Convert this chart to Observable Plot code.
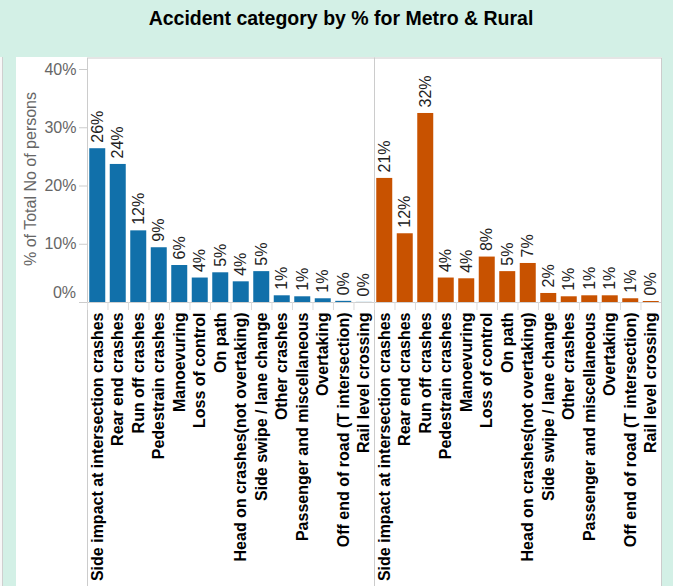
<!DOCTYPE html>
<html>
<head>
<meta charset="utf-8">
<script src="https://cdn.jsdelivr.net/npm/d3@7"></script>
<script src="https://cdn.jsdelivr.net/npm/@observablehq/plot@0.6"></script>
<style>
  html, body { margin: 0; padding: 0; }
  body { width: 673px; height: 586px; overflow: hidden; background: #d3f0e6; font-family: "Liberation Sans", Arial, sans-serif; }
  #wrap { position: relative; width: 673px; height: 586px; }
  #title { position: absolute; left: 16px; top: 6px; width: 650px; text-align: center; font-size: 19.5px; font-weight: bold; line-height: 24px; color: #000; }
  #strip { position: absolute; left: 0; top: 57px; width: 2px; height: 529px; background: #f7f7f7; border-right: 1px solid #cfcfcf; }
  #panel { position: absolute; left: 16px; top: 57px; width: 646px; height: 529px; background: #fff; }
  #chart { position: absolute; left: 0; top: 57px; }
</style>
</head>
<body>
<div id="wrap">
  <div id="title">Accident category by % for Metro &amp; Rural</div>
  <div id="strip"></div>
  <div id="panel"></div>
  <div id="chart"></div>
</div>
<script>
const categories = [
  "Side impact at intersection crashes",
  "Rear end crashes",
  "Run off crashes",
  "Pedestrain crashes",
  "Manoevuring",
  "Loss of control",
  "On path",
  "Head on crashes(not overtaking)",
  "Side swipe / lane change",
  "Other crashes",
  "Passenger and miscellaneous",
  "Overtaking",
  "Off end of road (T intersection)",
  "Rail level crossing"
];
const regions = ["Metro", "Rural"];
const metroValues = [26.4, 23.7, 12.3, 9.4, 6.35, 4.2, 5.1, 3.55, 5.3, 1.15, 0.98, 0.64, 0.2, 0.02];
const ruralValues = [21.3, 11.8, 32.45, 4.2, 4.07, 7.8, 5.3, 6.7, 1.55, 0.98, 1.15, 1.15, 0.64, 0.17];
const yTicks = [0, 10, 20, 30, 40];
const yLabel = "% of Total No of persons";
const colors = ["#1170aa", "#c85200"];

const data = [
  ...categories.map((c, i) => ({region: regions[0], category: c, value: metroValues[i]})),
  ...categories.map((c, i) => ({region: regions[1], category: c, value: ruralValues[i]}))
];

const W = 673, H = 529;
const mL = 86.5, mR = 11, mT = 12, mB = 284;
const facetW = (W - mL - mR) / regions.length;
const step = facetW / categories.length;
const yDomain = [yTicks[0], yTicks[yTicks.length - 1]];

const chart = Plot.plot({
  width: W,
  height: H,
  marginLeft: mL,
  marginRight: mR,
  marginTop: mT,
  marginBottom: mB,
  style: {background: "transparent", fontFamily: "'Liberation Sans', Arial, sans-serif", overflow: "visible"},
  fx: {domain: regions, padding: 0, axis: null},
  x: {domain: categories, paddingInner: 0.22, paddingOuter: 0.11, round: false, axis: null},
  y: {domain: yDomain, axis: null},
  color: {domain: regions, range: colors},
  marks: [
    Plot.frame({stroke: "#cccccc", insetTop: -mT + 0.5, insetBottom: -mB}),
    Plot.ruleY([0], {stroke: "#d0d0d0"}),
    Plot.ruleX(data, {fx: "region", x: "category", y1: 0, y2: 0, insetBottom: -8, dx: -step / 2, stroke: "#dcdcdc"}),
    Plot.barY(data, {fx: "region", x: "category", y: "value", fill: "region"}),
    Plot.text(data, {fx: "region", x: "category", y: "value", text: d => Math.round(d.value) + "%", rotate: -90, textAnchor: "start", dy: -6, fontSize: 16, fill: "#222"}),
    Plot.axisY({ticks: yTicks, tickSize: 8, tickPadding: 3, tickFormat: d => d === 0 ? "" : d + "%", fontSize: 16, color: "#666", stroke: "#cccccc", label: null}),
    Plot.text([{region: regions[0], v: yTicks[0]}], {fx: "region", y: "v", text: d => d.v + "%", frameAnchor: "left", textAnchor: "end", dx: -11.5, dy: -10, fontSize: 16, fill: "#666"}),
    Plot.text([{region: regions[0], v: (yDomain[0] + yDomain[1]) / 2}], {fx: "region", y: "v", text: () => yLabel, frameAnchor: "left", textAnchor: "middle", rotate: -90, dx: -57, dy: -7, fontSize: 16, fill: "#666"}),
    Plot.axisX({tickRotate: -90, tickSize: 0, tickPadding: 10, fontSize: 16, fontWeight: "bold", color: "#000", label: null})
  ]
});
document.getElementById("chart").appendChild(chart);
</script>
</body>
</html>
